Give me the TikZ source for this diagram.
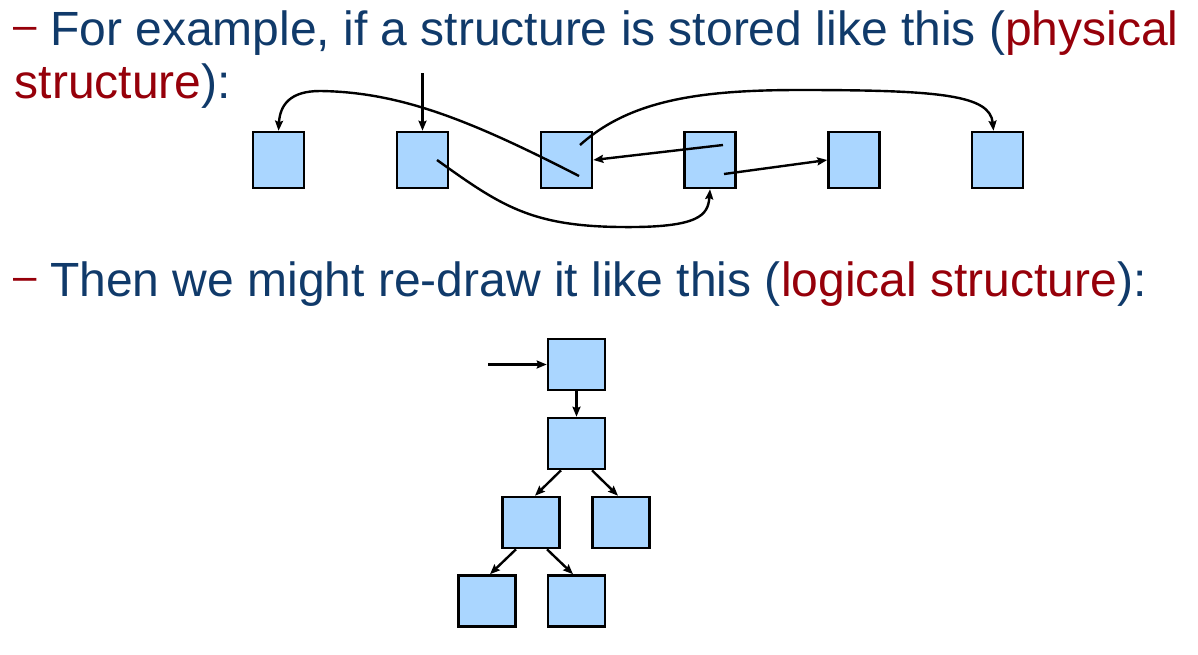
\documentclass[tikz,border=0pt]{standalone}
\usepackage{fontspec}
\setmainfont{Liberation Sans}
\usetikzlibrary{arrows.meta,calc}
\definecolor{navy}{RGB}{16,58,106}
\definecolor{maroon}{RGB}{150,0,10}
\definecolor{boxfill}{RGB}{170,214,255}
\begin{document}
\begin{tikzpicture}[x=1pt,y=-1pt,
  cell/.style={draw=black,fill=boxfill,line width=2.6pt,minimum width=51pt,minimum height=56pt,inner sep=0pt},
  tcell/.style={cell,minimum width=57pt,minimum height=51pt},
  conn/.style={draw=black,line width=2.4pt,-{Stealth[length=10pt,width=8pt,inset=1.5pt]}},
  txt/.style={anchor=base west,inner sep=0pt,font=\fontsize{48}{58}\selectfont,text=navy},
  bulletdash/.style={anchor=base west,inner sep=0pt,font=\fontsize{42}{48}\selectfont,text=maroon}]
\useasboundingbox (0,0) rectangle (1198,654);
% texts
\node[bulletdash] (d1) at (13,45) {\raisebox{6pt}{–}};
\node[txt] (t1) at (50,45) {For example, if a structure is stored like this (\textcolor{maroon}{physical}};
\node[txt] (t2) at (14.5,98) {\textcolor{maroon}{structure}):};
\node[bulletdash] (d3) at (13,296) {\raisebox{6pt}{–}};
\node[txt] (t3) at (50,296) {Then we might re-draw it like this (\textcolor{maroon}{logical structure}):};
% physical boxes
\node[cell] (b1) at (278.5,160) {};
\node[cell] (b2) at (422.5,160) {};
\node[cell] (b3) at (566.5,160) {};
\node[cell] (b4) at (710,160) {};
\node[cell] (b5) at (854,160) {};
\node[cell] (b6) at (997.5,160) {};
\coordinate (p3a) at (579,176);
\coordinate (p3b) at (580,145);
\coordinate (p2) at (437,160);
\coordinate (p4a) at (723,145);
\coordinate (p4b) at (724,174);
\coordinate (entry1) at (422.5,73);
\draw[conn] (entry1) -- (b2.north);
\draw[conn] (p3a) .. controls (470,120) and (400,92) .. (320,91) .. controls (290,91) and (280,105) .. (b1.north);
\draw[conn] (p2) .. controls (500,205) and (530,226) .. (620,227) .. controls (700,228) and (708,215) .. (b4.south);
\draw[conn] (p3b) .. controls (630,100) and (700,90) .. (800,90) .. controls (940,90) and (990,95) .. ([xshift=-4pt]b6.north);
\draw[conn] (p4a) -- (b3.east);
\draw[conn] (p4b) -- (b5.west);
% logical tree
\node[tcell] (A) at (576.5,364.5) {};
\node[tcell] (B) at (576.5,443.5) {};
\node[tcell] (C) at (531,522.5) {};
\node[tcell] (D) at (621,522.5) {};
\node[tcell] (E) at (487,601) {};
\node[tcell] (F) at (576.5,601) {};
\coordinate (entry2) at (488,364.5);
\draw[conn] (entry2) -- (A.west);
\draw[conn] (A.south) -- (B.north);
\draw[conn] ([xshift=-15.5pt]B.south) -- ([xshift=4pt]C.north);
\draw[conn] ([xshift=15.5pt]B.south) -- ([xshift=-3pt]D.north);
\draw[conn] ([xshift=-15pt]C.south) -- ([xshift=3pt]E.north);
\draw[conn] ([xshift=16pt]C.south) -- ([xshift=-3.5pt]F.north);
\end{tikzpicture}
\end{document}
